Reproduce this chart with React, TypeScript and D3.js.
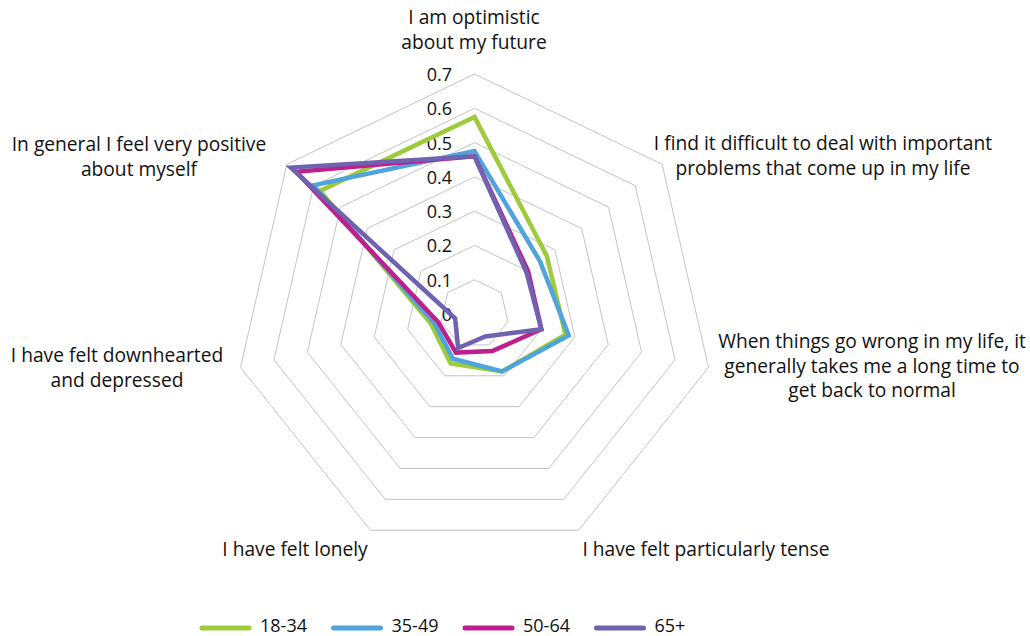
import React from "react";
import * as d3 from "d3";

const categories: string[][] = [
  ["I am optimistic", "about my future"],
  ["I find it difficult to deal with important", "problems that come up in my life"],
  ["When things go wrong in my life, it", "generally takes me a long time to", "get back to normal"],
  ["I have felt particularly tense"],
  ["I have felt lonely"],
  ["I have felt downhearted", "and depressed"],
  ["In general I feel very positive", "about myself"],
];

const seriesNames = ["18-34", "35-49", "50-64", "65+"];
const s18_34 = [0.575, 0.27, 0.272, 0.186, 0.16, 0.13, 0.576];
const s35_49 = [0.475, 0.245, 0.282, 0.186, 0.145, 0.12, 0.602];
const s50_64 = [0.46, 0.2, 0.2, 0.12, 0.125, 0.108, 0.665];
const s65 = [0.46, 0.194, 0.2, 0.073, 0.11, 0.058, 0.685];
const seriesValues = [s18_34, s35_49, s50_64, s65];
const seriesColors = ["#9dcb3b", "#4ea4db", "#be1f8d", "#6f62b0"];
const ticks = [0, 0.1, 0.2, 0.3, 0.4, 0.5, 0.6, 0.7];

// label layout: anchor position (x, first baseline y)
const labelPos: [number, number][] = [
  [474, 24],
  [823, 150],
  [872, 348],
  [706, 556],
  [295, 556],
  [117, 362],
  [139, 151],
];

export default function App() {
  const W = 1030, H = 636;
  const cx = 474.5, cy = 314, R = 240;
  const r = d3.scaleLinear().domain([0, 0.7]).range([0, R]);
  const n = categories.length;
  const angle = (i: number) => (2 * Math.PI * i) / n;
  const pt = (i: number, v: number): [number, number] => [
    cx + r(v) * Math.sin(angle(i)),
    cy - r(v) * Math.cos(angle(i)),
  ];
  const closed = d3.line<[number, number]>().curve(d3.curveLinearClosed);
  const font = "'Open Sans', sans-serif";
  const fs = 19.2;
  const fsSmall = 18;

  return (
    <div style={{ position: "absolute", left: 0, top: 0 }}>
      <svg width={W} height={H} style={{ display: "block", background: "#fff" }}>
        {/* grid rings */}
        {ticks.slice(1).map((t) => (
          <path
            key={t}
            d={closed(d3.range(n).map((i) => pt(i, t))) || ""}
            fill="none"
            stroke="#c4c4c4"
            strokeWidth={1}
          />
        ))}
        {/* tick labels */}
        {ticks.map((t) => (
          <text
            key={"t" + t}
            x={452}
            y={cy - r(t) + 7}
            textAnchor="end"
            fontFamily={font}
            fontSize={fsSmall}
            fill="#111"
          >
            {t === 0 ? "0" : t.toFixed(1)}
          </text>
        ))}
        {/* series */}
        {seriesValues.map((vals, si) => (
          <path
            key={seriesNames[si]}
            d={closed(vals.map((v, i) => pt(i, v))) || ""}
            fill="none"
            stroke={seriesColors[si]}
            strokeWidth={4.5}
            strokeLinejoin="miter"
          />
        ))}
        {/* category labels */}
        {categories.map((lines, i) => (
          <text
            key={"c" + i}
            textAnchor="middle"
            fontFamily={font}
            fontSize={fs}
            fill="#111"
          >
            {lines.map((ln, j) => (
              <tspan key={j} x={labelPos[i][0]} y={labelPos[i][1] + j * 24.5}>
                {ln}
              </tspan>
            ))}
          </text>
        ))}
        {/* legend */}
        {seriesNames.map((name, si) => {
          const x0 = 202 + si * 131.5;
          return (
            <g key={"l" + name}>
              <line
                x1={x0}
                x2={x0 + 47}
                y1={628}
                y2={628}
                stroke={seriesColors[si]}
                strokeWidth={5}
                strokeLinecap="round"
              />
              <text x={x0 + 58} y={632} fontFamily={font} fontSize={fsSmall} fill="#111">
                {name}
              </text>
            </g>
          );
        })}
      </svg>
    </div>
  );
}
